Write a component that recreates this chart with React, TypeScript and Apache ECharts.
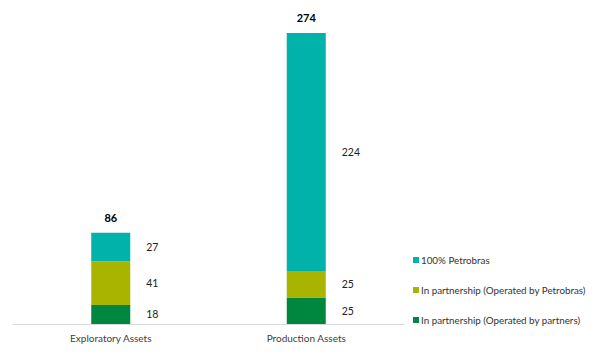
import React, { useEffect, useRef } from "react";
import * as echarts from "echarts";

const categories = ["Exploratory Assets", "Production Assets"];
const partnersOperated = [18, 25];
const petrobrasOperated = [41, 25];
const petrobras100 = [27, 224];
const totals = [86, 274];
const seriesNames = [
  "100% Petrobras",
  "In partnership (Operated by Petrobras)",
  "In partnership (Operated by partners)",
];
const colors = {
  teal: "#00B2A9",
  olive: "#A8B400",
  green: "#00873F",
};

const FONT = "Lato";

export default function App() {
  const ref = useRef<HTMLDivElement>(null);
  useEffect(() => {
    if (!ref.current) return;
    const chart = echarts.init(ref.current, null, { renderer: "svg" });
    const segLabel = {
      show: true,
      position: "right" as const,
      distance: 16,
      color: "#222",
      fontSize: 10.5,
      fontFamily: FONT,
    };
    chart.setOption({
      animation: false,
      textStyle: { fontFamily: FONT },
      grid: { left: 13, right: 204, top: 33, bottom: 29, containLabel: false },
      legend: {
        orient: "vertical",
        left: 408,
        top: 250,
        itemWidth: 6,
        itemHeight: 6,
        itemGap: 20,
        icon: "rect",
        textStyle: { fontSize: 9.8, color: "#333", fontFamily: FONT, padding: [0, 0, 0, -3] },
        data: [seriesNames[0], seriesNames[1], seriesNames[2]],
      },
      xAxis: {
        type: "category",
        data: categories,
        axisLine: { lineStyle: { color: "#D9D9D9", width: 1 } },
        axisTick: { show: false },
        axisLabel: { fontSize: 10, color: "#404040", margin: 9, fontFamily: FONT },
      },
      yAxis: {
        type: "value",
        min: 0,
        max: 274,
        show: false,
        splitLine: { show: false },
      },
      series: [
        {
          name: seriesNames[2],
          type: "bar",
          stack: "total",
          barWidth: 39,
          data: partnersOperated,
          itemStyle: { color: colors.green },
          label: segLabel,
        },
        {
          name: seriesNames[1],
          type: "bar",
          stack: "total",
          barWidth: 39,
          data: petrobrasOperated,
          itemStyle: { color: colors.olive },
          label: segLabel,
        },
        {
          name: seriesNames[0],
          type: "bar",
          stack: "total",
          barWidth: 39,
          data: petrobras100,
          itemStyle: { color: colors.teal },
          label: segLabel,
        },
        {
          name: "Total",
          type: "bar",
          stack: "total",
          barWidth: 39,
          data: totals.map(() => 0),
          itemStyle: { color: "transparent" },
          label: {
            show: true,
            position: "top",
            distance: 10,
            color: "#000",
            fontWeight: "bold",
            fontSize: 11,
            fontFamily: FONT,
            formatter: (p: any) => String(totals[p.dataIndex]),
          },
        },
      ],
    });
    return () => chart.dispose();
  }, []);
  return (
    <div
      ref={ref}
      style={{ position: "fixed", left: 0, top: 0, width: 608, height: 353, background: "#fff" }}
    />
  );
}
